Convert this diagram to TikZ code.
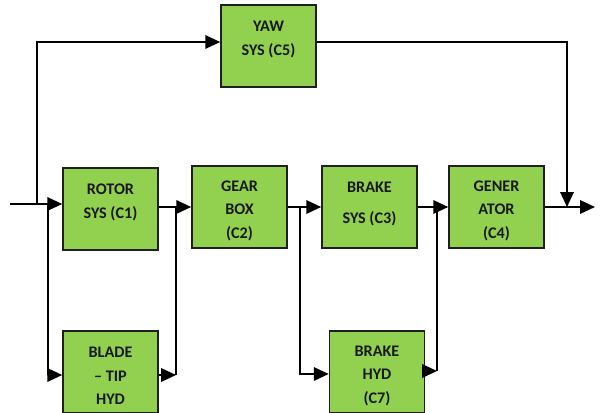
\documentclass[tikz,border=0pt]{standalone}
\usepackage{fontspec}
\setmainfont{Carlito}
\usetikzlibrary{arrows.meta}
\usetikzlibrary{calc}
\usetikzlibrary{positioning}
\definecolor{blockgreen}{HTML}{92D050}
\newcommand{\toppad}{\rule{0pt}{13pt}}

\begin{document}
\begin{tikzpicture}[x=0.025cm, y=-0.025cm, line width=1.3pt]
    \tikzset{
        every node/.style={font=\fontsize{11.5}{16.7}\selectfont\bfseries},
        block/.style={draw=black!88, line width=1.1pt, fill=blockgreen, text=black!90,
            minimum width=2.375cm, minimum height=2.05cm, align=center, inner sep=0pt},
        flow/.style={-{Triangle[length=10.5pt,width=9.5pt]}}
    }
    \useasboundingbox (0,0) rectangle (601,413);

    % draw blocks
    \node[block] (yaw) at (268.5,46) {\toppad YAW\\SYS (C5)\\\mbox{}};
    \node[block] (rotor) at (110.5,209) {\toppad ROTOR\\SYS (C1)\\\mbox{}};
    \node[block] (gear) at (239.5,207) {\toppad GEAR\\BOX\\(C2)};
    \node[block] (brakesys) at (369.5,207) {\toppad BRAKE\\[5.3pt]SYS (C3)\\[-5.7pt]\mbox{}};
    \node[block] (gen) at (496.5,207) {\toppad GENER\\ATOR\\(C4)};
    \node[block] (blade) at (110.5,372) {\toppad BLADE\\-- TIP\\HYD};
    \node[block] (brakehyd) at (377,372) {\toppad BRAKE\\HYD\\(C7)};

    % draw input and yaw branch
    \coordinate (in) at (10,204);
    \coordinate (yawtap) at (37,204);
    \coordinate (bladetap) at (48,204);
    \draw[flow] (in) -- (rotor.west |- in);
    \draw[flow] (yawtap) |- ($(yaw.west)+(0,-4)$);

    % draw blade tip loop
    \coordinate (bladeout) at (176,375);
    \draw[flow] (bladetap) |- ($(blade.west)+(0,3)$);
    \draw[flow] (rotor.east |- gear.west) -- (gear.west);
    \draw[flow] ($(blade.east)+(0,3)$) -- (bladeout);
    \draw (bladeout) -- (bladeout |- gear.west);

    % draw brake hyd loop
    \coordinate (hydtap) at (300,207);
    \coordinate (hydout) at (437,371);
    \draw[flow] (gear.east) -- (brakesys.west);
    \draw[flow] (hydtap) |- ($(brakehyd.west)+(0,2)$);
    \draw[flow] (brakesys.east) -- (gen.west);
    \draw[flow] ($(brakehyd.east)+(0,-1)$) -- (hydout);
    \draw (hydout) -- (hydout |- gen.west);

    % draw output
    \coordinate (out) at (595,207);
    \coordinate (yawret) at (567,207);
    \draw[flow] (gen.east) -- (out);
    \draw[flow, line width=1.1pt] ($(yaw.east)+(0,-4)$) -| (yawret);

\end{tikzpicture}
\end{document}
